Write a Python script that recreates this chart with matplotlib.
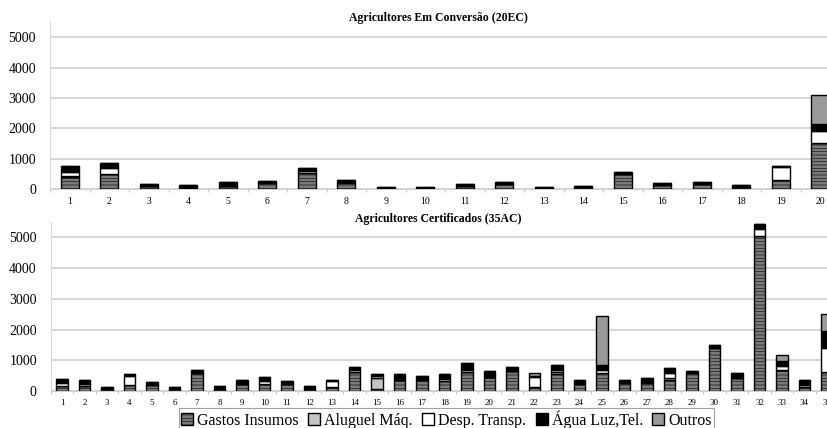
import matplotlib.pyplot as plt
import numpy as np

plt.rcParams['font.family'] = ['Liberation Serif', 'DejaVu Serif']
plt.rcParams['hatch.linewidth'] = 0.4

# Categorias de despesa (ordem de empilhamento, de baixo para cima)
categorias = ['Gastos Insumos', 'Aluguel Máq.', 'Desp. Transp.', 'Água Luz,Tel.', 'Outros']
cores = ['#7a7a7a', '#c4c4c4', '#ffffff', '#000000', '#9a9a9a']
hachuras = ['-----', None, None, None, None]

# Agricultores Em Conversão (20EC)
ec_gastos   = [380, 500, 100, 30, 100, 210, 520, 200, 20, 25, 115, 170, 30, 50, 505, 145, 170, 80, 300, 1500]
ec_aluguel  = [60, 0, 0, 0, 0, 0, 0, 40, 0, 0, 0, 0, 0, 0, 0, 0, 0, 0, 0, 0]
ec_desp     = [120, 200, 0, 0, 0, 0, 80, 0, 0, 0, 0, 0, 0, 0, 0, 0, 0, 0, 420, 400]
ec_agua     = [200, 160, 60, 110, 130, 60, 100, 50, 30, 50, 60, 60, 45, 50, 50, 60, 60, 40, 40, 230]
ec_outros   = [0, 0, 0, 0, 0, 0, 0, 0, 0, 0, 0, 0, 0, 0, 0, 0, 0, 0, 0, 970]

# Agricultores Certificados (35AC)
ac_gastos   = [170, 170, 60, 180, 180, 60, 575, 70, 240, 230, 240, 70, 140, 625, 50, 345, 360, 325,
               615, 445, 665, 140, 560, 240, 600, 270, 245, 370, 580, 1390, 425, 5040, 680, 120, 630]
ac_aluguel  = [0, 0, 0, 0, 0, 0, 0, 0, 0, 0, 0, 0, 0, 0, 380, 0, 0, 0,
               0, 0, 0, 0, 60, 0, 0, 0, 0, 60, 0, 0, 0, 0, 0, 0, 0]
ac_desp     = [90, 60, 0, 300, 0, 0, 0, 0, 0, 80, 0, 0, 170, 60, 60, 0, 0, 60,
               60, 0, 0, 320, 70, 0, 90, 0, 60, 150, 0, 50, 0, 240, 130, 80, 765]
ac_agua     = [120, 120, 80, 70, 120, 80, 100, 90, 130, 150, 90, 90, 60, 100, 75, 200, 130, 160,
               250, 220, 100, 40, 150, 130, 160, 100, 130, 160, 60, 50, 150, 170, 180, 150, 545]
ac_outros   = [0, 0, 0, 0, 0, 0, 0, 0, 0, 0, 0, 0, 0, 0, 0, 0, 0, 0,
               0, 0, 0, 75, 0, 0, 1580, 0, 0, 0, 0, 0, 0, 0, 185, 0, 575]

dados_ec = [ec_gastos, ec_aluguel, ec_desp, ec_agua, ec_outros]
dados_ac = [ac_gastos, ac_aluguel, ac_desp, ac_agua, ac_outros]

fig = plt.figure(figsize=(8.28, 4.28), dpi=100)
W, H = 828, 428

# eixos propositalmente mais largos que a figura (o original está cortado à direita)
ax1 = fig.add_axes([50 / W, (H - 189) / H, 790 / W, 167 / H])
ax2 = fig.add_axes([50.75 / W, (H - 391) / H, 787.5 / W, 169 / H])


def desenha(ax, dados, largura, titulo, tam_tick):
    n = len(dados[0])
    x = np.arange(1, n + 1)
    base = np.zeros(n)
    barras = []
    for valores, cor, hach, nome in zip(dados, cores, hachuras, categorias):
        b = ax.bar(x, valores, largura, bottom=base, color=cor, edgecolor='black',
                   linewidth=1.0, hatch=hach, label=nome, zorder=3)
        barras.append(b)
        base += np.array(valores)
    ax.set_xlim(0.5, n + 0.5)
    ax.set_ylim(0, 5500)
    ax.set_yticks([0, 1000, 2000, 3000, 4000, 5000])
    ax.set_xticks(x)
    ax.set_xticklabels([str(i) for i in x], fontsize=tam_tick)
    ax.set_xticks(np.arange(0.5, n + 1), minor=True)
    ax.tick_params(axis='x', which='major', length=0, pad=6)
    ax.tick_params(axis='x', which='minor', length=2, color='#bbbbbb')
    ax.tick_params(axis='y', length=0, labelsize=10, pad=10)
    ax.grid(axis='y', color='#d0d0d0', linewidth=1.2, zorder=0)
    for lado in ['top', 'right']:
        ax.spines[lado].set_visible(False)
    ax.spines['left'].set_color('#d8d8d8')
    ax.spines['bottom'].set_color('#d0d0d0')
    ax.text(438, titulo[1], titulo[0], transform=None, ha='center', va='center',
            fontsize=8.5, fontweight='bold')
    return barras


desenha(ax1, dados_ec, 0.46, ('Agricultores Em Conversão (20EC)', H - 18), 7)
barras = desenha(ax2, dados_ac, 0.5, ('Agricultores Certificados (35AC)', H - 219), 6.5)

leg = fig.legend(handles=barras, labels=categorias, loc='upper center',
                 bbox_to_anchor=(446.5 / W, 1 - 408 / H), ncol=5, fontsize=11.5,
                 frameon=True, fancybox=False, edgecolor='#888888', borderpad=0.15,
                 handlelength=0.75, handleheight=0.75, handletextpad=0.25,
                 columnspacing=0.6, borderaxespad=0)
leg.get_frame().set_linewidth(0.8)

fig.savefig('out.png', dpi=100)
